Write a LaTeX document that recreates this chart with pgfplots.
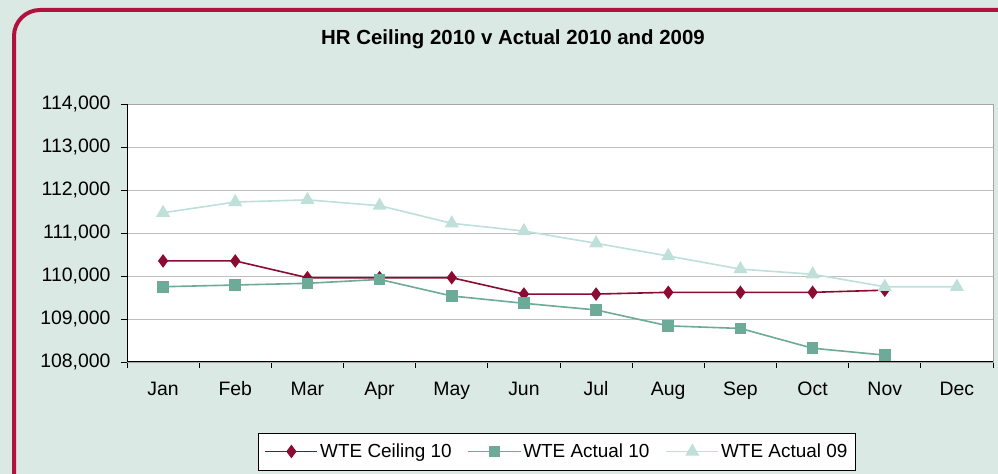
\documentclass[border=0pt]{standalone}
\usepackage{pgfplots}
\pgfplotsset{compat=1.18}
\usepackage{fontspec}
\setmainfont{Liberation Sans}
\definecolor{bgc}{HTML}{DAE9E3}
\definecolor{framec}{HTML}{B0123E}
\definecolor{ceil}{HTML}{8C0B32}
\definecolor{act10}{HTML}{6DAA98}
\definecolor{act09}{HTML}{BEE0D9}
\pgfplotstableread{
x ceil act10 act09
0.5 110350 109750 111470
1.5 110350 109790 111720
2.5 109960 109830 111770
3.5 109960 109920 111635
4.5 109960 109535 111225
5.5 109580 109365 111045
6.5 109580 109210 110760
7.5 109620 108840 110465
8.5 109620 108780 110160
9.5 109620 108320 110040
10.5 109670 108160 109750
11.5 nan nan 109750
}\datatable
\begin{document}
\begin{tikzpicture}[x=1bp,y=1bp]
\begin{scope}
\clip (0,0) rectangle (998,474);
\fill[bgc] (0,0) rectangle (998,474);
\draw[framec, line width=4bp, fill=bgc, rounded corners=26bp] (14,-40) rectangle (1040,464);
\end{scope}
\node[font=\fontsize{20.5}{24}\selectfont\bfseries] at (513,435) {HR Ceiling 2010 v Actual 2010 and 2009};
\begin{axis}[
  at={(127bp,112bp)}, anchor=south west,
  scale only axis, width=866bp, height=258bp,
  xmin=0, xmax=12, ymin=108000, ymax=114000,
  axis background/.style={fill=white},
  axis line style={draw=gray!70},
  xtick={0.5,1.5,...,11.5},
  xticklabels={Jan,Feb,Mar,Apr,May,Jun,Jul,Aug,Sep,Oct,Nov,Dec},
  major x tick style={draw=none},
  minor xtick={0,1,...,12},
  minor x tick style={black, line width=0.8bp},
  minor tick length=6bp,
  ytick={108000,109000,...,114000},
  scaled y ticks=false,
  major y tick style={black, line width=0.8bp},
  major tick length=6bp,
  tick align=outside,
  xtick pos=bottom, ytick pos=left,
  ymajorgrids, grid style={gray!50, line width=0.8bp},
  /pgf/number format/fixed,
  /pgf/number format/1000 sep={,},
  /pgf/number format/assume math mode=true,
  ticklabel style={font=\fontsize{19.5}{23}\selectfont},
  xticklabel style={text height=14bp, text depth=4bp, yshift=-10bp},
  yticklabel style={xshift=-7bp},
  legend columns=3,
  legend style={at={(0.4965,-0.347)}, anchor=center, draw=black, fill=white,
    font=\fontsize{19}{22}\selectfont, inner xsep=6bp, inner ysep=9bp,
    /tikz/every even column/.append style={column sep=14bp}},
  legend image code/.code={
    \draw[mark repeat=2,mark phase=2] plot coordinates {(0bp,0bp) (26bp,0bp) (52bp,0bp)};},
]
\draw[black, line width=1bp] (rel axis cs:0,0) -- (rel axis cs:0,1);
\draw[black, line width=1bp] (rel axis cs:0,0) -- (rel axis cs:1,0);
\addplot[ceil, line width=1.6bp, mark=diamond*, mark size=5.5bp, mark options={fill=ceil, draw=ceil}] table[x=x, y=ceil] {\datatable};
\addlegendentry{WTE Ceiling 10}
\addplot[act10, line width=1.6bp, mark=square*, mark size=5bp, mark options={fill=act10, draw=act10}] table[x=x, y=act10] {\datatable};
\addlegendentry{WTE Actual 10}
\addplot[act09, line width=1.6bp, mark=triangle*, mark size=6.5bp, mark options={fill=act09, draw=act09}] table[x=x, y=act09] {\datatable};
\addlegendentry{WTE Actual 09}
\end{axis}
\pgfresetboundingbox
\path (0,0) rectangle (998,474);
\end{tikzpicture}
\end{document}
